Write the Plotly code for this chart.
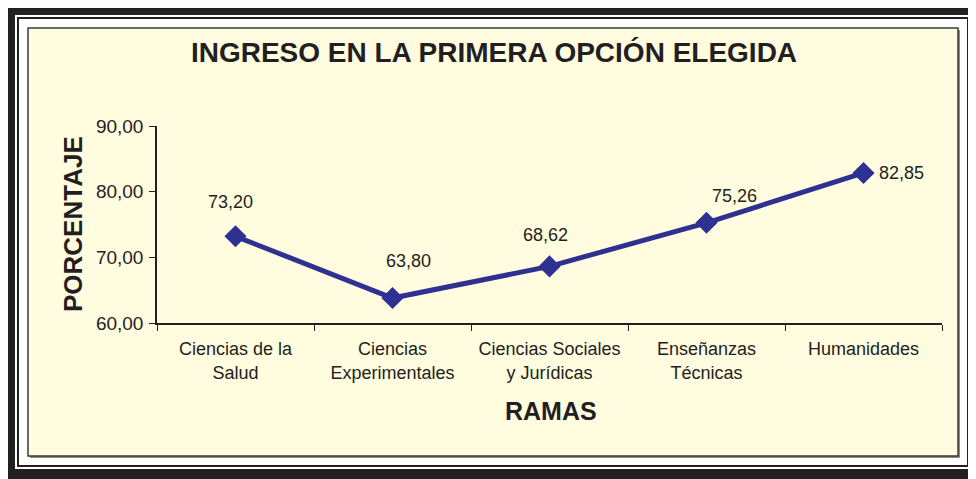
import plotly.graph_objects as go

# ---- data --------------------------------------------------------------------
ramas = [
    "Ciencias de la<br>Salud",
    "Ciencias<br>Experimentales",
    "Ciencias Sociales<br>y Jurídicas",
    "Enseñanzas<br>Técnicas",
    "Humanidades",
]
porcentaje = [73.20, 63.80, 68.62, 75.26, 82.85]
y_ticks = [60, 70, 80, 90]

# ---- geometry ----------------------------------------------------------------
# Page pixels are measured off the reference; the page body adds an 8px offset,
# so the figure itself is 8px smaller and every coordinate is shifted back.
OFF = 8
W, H = 976 - OFF, 479 - OFF
L, R, T, B = 157 - OFF, 34, 126 - OFF, 156
PW, PH = W - L - R, H - T - B

FONT = "Liberation Sans, Arial, Helvetica, sans-serif"
TXT = "#231F20"
NAVY = "#2E3192"
CREAM = "#FFFCDF"


def px(x):
    return (x - OFF - L) / PW


def py(y):
    return (H - B - (y - OFF)) / PH


def rect(x0, y0, x1, y1, fill=None, line=None, lw=0):
    return dict(
        type="rect", xref="paper", yref="paper",
        x0=px(x0), x1=px(x1), y0=py(y1), y1=py(y0),
        fillcolor=fill or "rgba(0,0,0,0)",
        line=dict(color=line or "rgba(0,0,0,0)", width=lw),
        layer="below",
    )


fig = go.Figure()
fig.add_trace(go.Scatter(
    x=ramas, y=porcentaje, mode="lines+markers",
    line=dict(color=NAVY, width=5),
    marker=dict(symbol="diamond", size=17, color=NAVY),
    hoverinfo="skip", showlegend=False,
))

# data labels, placed like the Excel original
label_shift = [(-5, 34), (16, 37), (-4, 31), (28, 27), (38, 0)]
for cat, v, (dx, dy) in zip(ramas, porcentaje, label_shift):
    fig.add_annotation(
        x=cat, y=v, text=f"{v:.2f}".replace(".", ","), showarrow=False,
        xshift=dx, yshift=dy, font=dict(family=FONT, size=18, color=TXT),
    )

# axis titles
fig.add_annotation(
    xref="paper", yref="paper", x=px(551), y=py(411), text="<b>RAMAS</b>",
    xanchor="center", yanchor="middle",
    showarrow=False, font=dict(family=FONT, size=25, color=TXT),
)
fig.add_annotation(
    xref="paper", yref="paper", x=px(73), y=py(224), text="<b>PORCENTAJE</b>",
    xanchor="center", yanchor="middle", textangle=-90,
    showarrow=False, font=dict(family=FONT, size=26, color=TXT),
)

shapes = [
    rect(8, 8, 990, 490, fill="#231F20"),               # outer black frame
    rect(15, 15, 971, 469, fill="white"),
    rect(18, 18, 968, 466, line="#231F20", lw=2),       # thin inner rule
    rect(30, 30, 960, 458, fill="#8C8A80"),             # panel shadow
    rect(28, 28, 958, 456, fill=CREAM, line="#3A3A3A", lw=1.5),
]

fig.update_layout(
    width=W, height=H,
    margin=dict(l=L, r=R, t=T, b=B),
    paper_bgcolor="white",
    plot_bgcolor="rgba(0,0,0,0)",
    separators=",.",
    shapes=shapes,
    title=dict(
        text="<b>INGRESO EN LA PRIMERA OPCIÓN ELEGIDA</b>",
        x=(494 - OFF) / W, xref="container", xanchor="center",
        y=1 - (52 - OFF) / H, yref="container", yanchor="middle",
        font=dict(family=FONT, size=28, color=TXT),
    ),
    font=dict(family=FONT, size=18, color=TXT),
)
fig.update_xaxes(
    type="category", range=[-0.5, 4.5],
    showline=True, linecolor=TXT, linewidth=1.5,
    ticks="outside", tickson="boundaries", ticklen=6, tickcolor=TXT,
    ticklabelstandoff=9,
    showgrid=False, zeroline=False,
    tickfont=dict(family=FONT, size=18, color=TXT),
)
fig.update_yaxes(
    range=[60, 90], tickvals=y_ticks, tickformat=".2f",
    showline=True, linecolor=TXT, linewidth=1.5,
    ticks="outside", ticklen=6, tickcolor=TXT,
    ticklabelstandoff=2,
    showgrid=False, zeroline=False,
    tickfont=dict(family=FONT, size=19, color=TXT),
)

fig.write_html("out.html")
